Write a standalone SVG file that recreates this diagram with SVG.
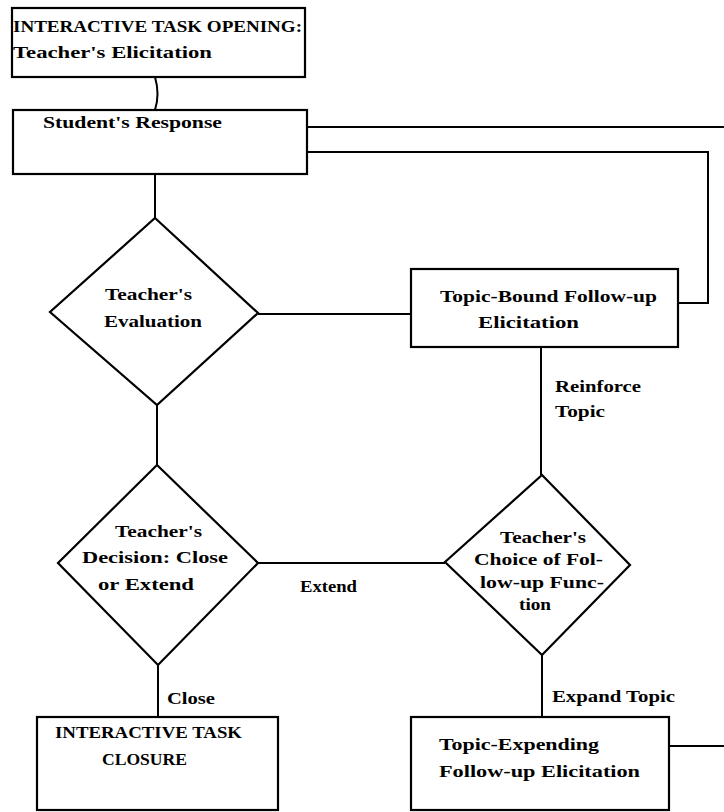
<svg xmlns="http://www.w3.org/2000/svg" width="724" height="812" viewBox="0 0 724 812">
<style>
.n{fill:#fff;stroke:#000;stroke-width:2.2}
.c{fill:none;stroke:#000;stroke-width:2}
text{font-family:"Liberation Serif","DejaVu Serif",serif;font-weight:bold;font-size:16px;fill:#000}
</style>
<rect width="724" height="812" fill="#fff"/>
<g id="connectors">
<path class="c" d="M155 77 Q160 94 155 110"/>
<path class="c" d="M307 127 H724"/>
<path class="c" d="M307 152 H708 V303 H678"/>
<path class="c" d="M155 174 V218"/>
<path class="c" d="M258 314 H411"/>
<path class="c" d="M157 405 V465"/>
<path class="c" d="M541 347 V475"/>
<path class="c" d="M258 563 H445"/>
<path class="c" d="M158 665 V717"/>
<path class="c" d="M542 655 V717"/>
<path class="c" d="M669 746 H724"/>
<text x="555" y="392" textLength="86" lengthAdjust="spacingAndGlyphs">Reinforce</text>
<text x="555" y="417" textLength="50" lengthAdjust="spacingAndGlyphs">Topic</text>
<text x="300" y="592" textLength="57" lengthAdjust="spacingAndGlyphs">Extend</text>
<text x="167" y="704" textLength="48" lengthAdjust="spacingAndGlyphs">Close</text>
<text x="552" y="702" textLength="123" lengthAdjust="spacingAndGlyphs">Expand Topic</text>
</g>
<g id="opening">
<rect class="n" x="12" y="8" width="293" height="69"/>
<text x="13" y="32" textLength="289" lengthAdjust="spacingAndGlyphs">INTERACTIVE TASK OPENING:</text>
<text x="13" y="58" textLength="199" lengthAdjust="spacingAndGlyphs">Teacher's Elicitation</text>
</g>
<g id="response">
<rect class="n" x="13" y="110" width="294" height="64"/>
<text x="43" y="128" textLength="179" lengthAdjust="spacingAndGlyphs">Student's Response</text>
</g>
<g id="evaluation">
<polygon class="n" points="155,218 258,313 157,405 50,312"/>
<text x="105" y="300" textLength="87" lengthAdjust="spacingAndGlyphs">Teacher's</text>
<text x="104" y="327" textLength="98" lengthAdjust="spacingAndGlyphs">Evaluation</text>
</g>
<g id="topic-bound">
<rect class="n" x="411" y="269" width="267" height="78"/>
<text x="440" y="302" textLength="217" lengthAdjust="spacingAndGlyphs">Topic-Bound Follow-up</text>
<text x="478" y="328" textLength="101" lengthAdjust="spacingAndGlyphs">Elicitation</text>
</g>
<g id="decision">
<polygon class="n" points="157,465 258,563 158,665 58,563"/>
<text x="115" y="537" textLength="87" lengthAdjust="spacingAndGlyphs">Teacher's</text>
<text x="82" y="563" textLength="146" lengthAdjust="spacingAndGlyphs">Decision: Close</text>
<text x="98" y="590" textLength="96" lengthAdjust="spacingAndGlyphs">or Extend</text>
</g>
<g id="choice">
<polygon class="n" points="542,475 630,565 542,655 445,562"/>
<text x="500" y="543" textLength="86" lengthAdjust="spacingAndGlyphs">Teacher's</text>
<text x="474" y="565" textLength="129" lengthAdjust="spacingAndGlyphs">Choice of Fol-</text>
<text x="480" y="588" textLength="124" lengthAdjust="spacingAndGlyphs">low-up Func-</text>
<text x="519" y="610" textLength="32" lengthAdjust="spacingAndGlyphs">tion</text>
</g>
<g id="closure">
<rect class="n" x="37" y="717" width="241" height="93"/>
<text x="55" y="738" textLength="187" lengthAdjust="spacingAndGlyphs">INTERACTIVE TASK</text>
<text x="102" y="765" textLength="85" lengthAdjust="spacingAndGlyphs">CLOSURE</text>
</g>
<g id="topic-expending">
<rect class="n" x="411" y="717" width="258" height="93"/>
<text x="439" y="750" textLength="160" lengthAdjust="spacingAndGlyphs">Topic-Expending</text>
<text x="439" y="777" textLength="201" lengthAdjust="spacingAndGlyphs">Follow-up Elicitation</text>
</g>
</svg>
